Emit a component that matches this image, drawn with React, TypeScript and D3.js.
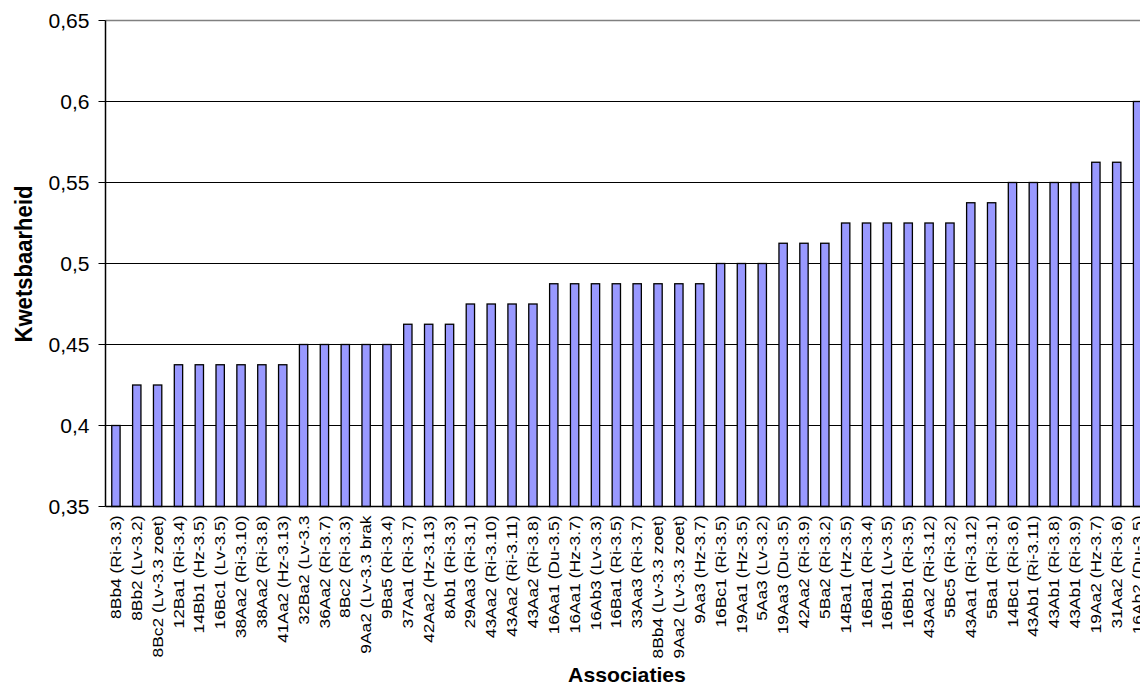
import React from "react";
import * as d3 from "d3";

const categories: string[] = [
  "8Bb4 (Ri-3.3)", "8Bb2 (Lv-3.2)", "8Bc2 (Lv-3.3 zoet)", "12Ba1 (Ri-3.4)", "14Bb1 (Hz-3.5)",
  "16Bc1 (Lv-3.5)", "38Aa2 (Ri-3.10)", "38Aa2 (Ri-3.8)", "41Aa2 (Hz-3.13)", "32Ba2 (Lv-3.3",
  "36Aa2 (Ri-3.7)", "8Bc2 (Ri-3.3)", "9Aa2 (Lv-3.3 brak", "9Ba5 (Ri-3.4)", "37Aa1 (Ri-3.7)",
  "42Aa2 (Hz-3.13)", "8Ab1 (Ri-3.3)", "29Aa3 (Ri-3.1)", "43Aa2 (Ri-3.10)", "43Aa2 (Ri-3.11)",
  "43Aa2 (Ri-3.8)", "16Aa1 (Du-3.5)", "16Aa1 (Hz-3.7)", "16Ab3 (Lv-3.3)", "16Ba1 (Ri-3.5)",
  "33Aa3 (Ri-3.7)", "8Bb4 (Lv-3.3 zoet)", "9Aa2 (Lv-3.3 zoet)", "9Aa3 (Hz-3.7)", "16Bc1 (Ri-3.5)",
  "19Aa1 (Hz-3.5)", "5Aa3 (Lv-3.2)", "19Aa3 (Du-3.5)", "42Aa2 (Ri-3.9)", "5Ba2 (Ri-3.2)",
  "14Ba1 (Hz-3.5)", "16Ba1 (Ri-3.4)", "16Bb1 (Lv-3.5)", "16Bb1 (Ri-3.5)", "43Aa2 (Ri-3.12)",
  "5Bc5 (Ri-3.2)", "43Aa1 (Ri-3.12)", "5Ba1 (Ri-3.1)", "14Bc1 (Ri-3.6)", "43Ab1 (Ri-3.11)",
  "43Ab1 (Ri-3.8)", "43Ab1 (Ri-3.9)", "19Aa2 (Hz-3.7)", "31Aa2 (Ri-3.6)", "16Ab2 (Du-3.5)",
];

const values: number[] = [
  0.4, 0.425, 0.425, 0.4375, 0.4375,
  0.4375, 0.4375, 0.4375, 0.4375, 0.45,
  0.45, 0.45, 0.45, 0.45, 0.4625,
  0.4625, 0.4625, 0.475, 0.475, 0.475,
  0.475, 0.4875, 0.4875, 0.4875, 0.4875,
  0.4875, 0.4875, 0.4875, 0.4875, 0.5,
  0.5, 0.5, 0.5125, 0.5125, 0.5125,
  0.525, 0.525, 0.525, 0.525, 0.525,
  0.525, 0.5375, 0.5375, 0.55, 0.55,
  0.55, 0.55, 0.5625, 0.5625, 0.6,
];

const yTicks: number[] = [0.35, 0.4, 0.45, 0.5, 0.55, 0.6, 0.65];
const yTitle = "Kwetsbaarheid";
const xTitle = "Associaties";

const W = 1140;
const H = 686;
const left = 105.5;
const top = 20.5;
const bottom = 506.5;
const step = 20.85;
const font = "'Liberation Sans', Arial, sans-serif";

export default function App() {
  const x = d3
    .scaleBand<string>()
    .domain(categories)
    .range([left, left + step * categories.length])
    .paddingInner(0.6)
    .paddingOuter(0.3);
  const y = d3.scaleLinear().domain([0.35, 0.65]).range([bottom, top]);
  const fmt = (v: number) => d3.format(".2~f")(v).replace(".", ",");
  const right = left + step * categories.length + 20;

  return (
    <svg
      width={W}
      height={H}
      style={{ position: "absolute", left: 0, top: 0, display: "block" }}
    >
      <rect x={0} y={0} width={W} height={H} fill="#fff" />
      {yTicks.slice(1, -1).map((t) => (
        <line key={t} x1={left} x2={right} y1={y(t)} y2={y(t)} stroke="#000" strokeWidth={1} />
      ))}
      <line x1={left} x2={right} y1={y(0.65)} y2={y(0.65)} stroke="#808080" strokeWidth={1.5} />
      {categories.map((c, i) => (
        <rect
          key={i}
          x={x(c)!}
          y={y(values[i])}
          width={x.bandwidth()}
          height={y(0.35) - y(values[i])}
          fill="#9999FF"
          stroke="#000"
          strokeWidth={1.3}
        />
      ))}
      <line x1={left} x2={right} y1={bottom} y2={bottom} stroke="#000" strokeWidth={1.5} />
      <line x1={left} x2={left} y1={top} y2={bottom} stroke="#000" strokeWidth={1.5} />
      {yTicks.map((t) => (
        <g key={t}>
          <line x1={left - 7} x2={left} y1={y(t)} y2={y(t)} stroke="#000" strokeWidth={1} />
          <text
            transform={`translate(${left - 16},${y(t)}) scale(1.08,1)`}
            dy="0.36em"
            textAnchor="end"
            fontFamily={font}
            fontSize={19.5}
            fill="#000"
          >
            {fmt(t)}
          </text>
        </g>
      ))}
      {categories.map((c) => (
        <text
          key={c + "l"}
          transform={`translate(${x(c)! + x.bandwidth() / 2},${bottom + 9}) rotate(-90) scale(1.2,1)`}
          textAnchor="end"
          dy="0.35em"
          fontFamily={font}
          fontSize={14.5}
          fill="#000"
        >
          {c}
        </text>
      ))}
      <text
        transform={`translate(23,${264}) rotate(-90) scale(0.92,1)`}
        textAnchor="middle"
        dy="0.36em"
        fontFamily={font}
        fontWeight="bold"
        fontSize={24}
        fill="#000"
      >
        {yTitle}
      </text>
      <text
        transform={`translate(627,682) scale(1.06,1)`}
        textAnchor="middle"
        fontFamily={font}
        fontWeight="bold"
        fontSize={20}
        fill="#000"
      >
        {xTitle}
      </text>
    </svg>
  );
}
